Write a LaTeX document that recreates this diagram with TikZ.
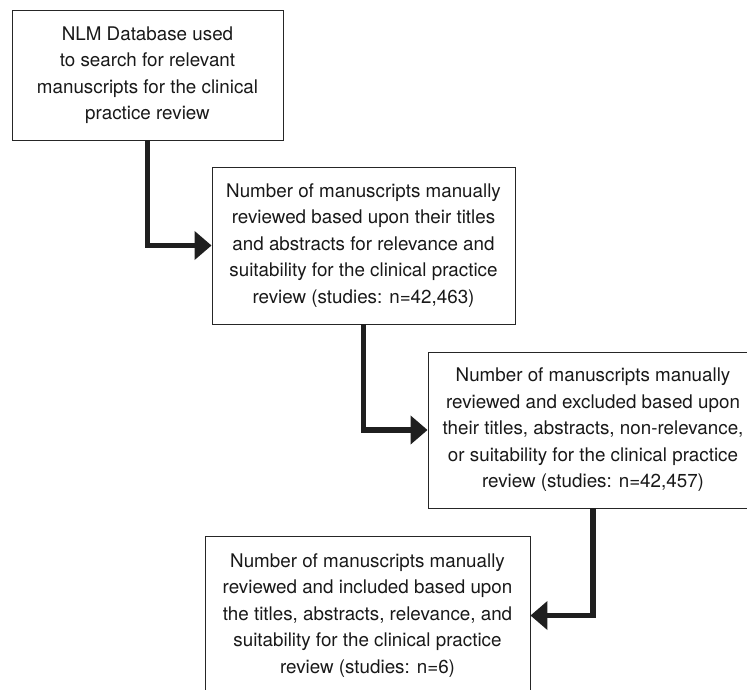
\documentclass[tikz,border=0pt]{standalone}
\usepackage{fontspec}
\setmainfont{TeX Gyre Heros}
\usetikzlibrary{arrows.meta}
\tikzset{
	stepbox/.style={draw=black!85, line width=0.9pt, inner sep=0pt, align=center, text=black!90,
		font=\fontsize{18.8}{26.5}\selectfont},
	flowarrow/.style={line width=5.5pt, draw=black!88, -{Triangle[length=17pt,width=28pt]}}
}

\begin{document}
\begin{tikzpicture}[x=1pt,y=-1pt]
			%%%%% START %%%%%
			
			\useasboundingbox (0,0) rectangle (747,690);
			\clip (0,0) rectangle (747,690);
			
			\node[stepbox, minimum width=271pt, minimum height=130pt] (search) at (147.5, 75)
				{NLM Database used\\to search for relevant\\manuscripts for the clinical\\practice review};
			
			\node[stepbox, minimum width=303pt, minimum height=157pt] (screened) at (363.5, 245.5)
				{Number of manuscripts manually\\reviewed based upon their titles\\and abstracts for relevance and\\suitability for the clinical practice\\review (studies: n=42,463)};
			
			\node[stepbox, minimum width=330pt, minimum height=156pt] (excluded) at (593, 430)
				{Number of manuscripts manually\\reviewed and excluded based upon\\their titles, abstracts, non-relevance,\\or suitability for the clinical practice\\review (studies: n=42,457)};
			
			\node[stepbox, minimum width=325pt, minimum height=159pt] (included) at (367.5, 615.5)
				{Number of manuscripts manually\\reviewed and included based upon\\the titles, abstracts, relevance, and\\suitability for the clinical practice\\review (studies: n=6)};
			
			\draw[flowarrow] (search.south) |- (screened.west);
			\draw[flowarrow] (screened.south) |- (excluded.west);
			\draw[flowarrow] (excluded.south) |- (included.east);
			
			%%%%% END %%%%%
\end{tikzpicture}
\end{document}
